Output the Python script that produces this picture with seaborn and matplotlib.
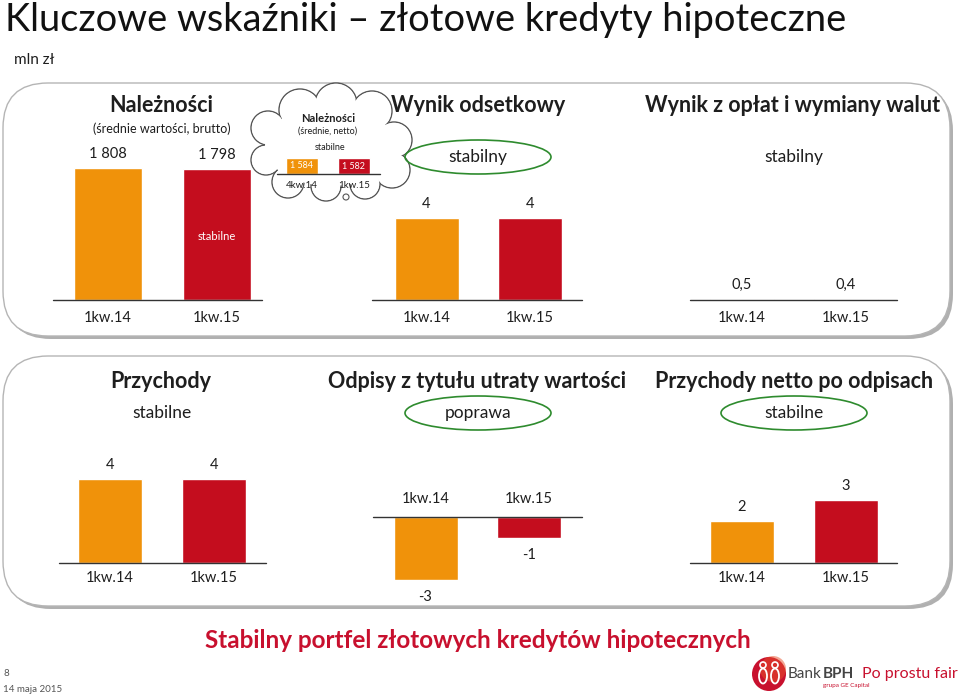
import matplotlib
matplotlib.use("Agg")
import matplotlib.pyplot as plt
import seaborn as sns
import pandas as pd
from matplotlib.patches import FancyBboxPatch, Circle, Ellipse

# ---------------- data ----------------
quarters = ["1kw.14", "1kw.15"]
cloud_quarters = ["4kw.14", "1kw.15"]
naleznosci_brutto = [1808, 1798]
naleznosci_netto = [1584, 1582]
wynik_odsetkowy = [4, 4]
wynik_oplat = [0.5, 0.4]
przychody = [4, 4]
odpisy = [-3, -1]
przychody_netto = [2, 3]

ORANGE = "#F0920A"
RED = "#C40D1E"
GREEN = "#2E8B2E"
DARK = "#1E1E1E"
W, H = 960, 696

sns.set_theme(style="white")
plt.rcParams["font.family"] = ["Lato", "DejaVu Sans"]

fig = plt.figure(figsize=(9.6, 6.96), dpi=100)
bg = fig.add_axes([0, 0, 1, 1])
bg.set_xlim(0, W)
bg.set_ylim(H, 0)
bg.axis("off")
bg.set_zorder(0)


def txt(x, y, s, size, **kw):
    kw.setdefault("color", DARK)
    kw.setdefault("ha", "center")
    kw.setdefault("va", "center")
    bg.text(x, y, s, fontsize=size, **kw)


def rbox(x0, y0, x1, y1, r=45):
    sh = FancyBboxPatch((x0 + r + 3, y0 + r + 3), (x1 - x0) - 2 * r, (y1 - y0) - 2 * r,
                        boxstyle=f"round,pad={r}", fc="#b0b0b0", ec="none", zorder=1)
    bg.add_patch(sh)
    bx = FancyBboxPatch((x0 + r, y0 + r), (x1 - x0) - 2 * r, (y1 - y0) - 2 * r,
                        boxstyle=f"round,pad={r}", fc="white", ec="#b5b5b5", lw=1.0, zorder=2)
    bg.add_patch(bx)


rbox(3, 83, 950, 336)
rbox(3, 356, 950, 606)

# ---------- cloud ----------
cloud = [(300, 110, 21), (336, 104, 21), (372, 111, 20), (394, 140, 18), (392, 170, 18),
         (365, 184, 15), (326, 186, 15), (288, 182, 16), (266, 160, 15), (268, 128, 17)]
for cx, cy, r in cloud:
    bg.add_patch(Circle((cx, cy), r, fc="white", ec="#555555", lw=1.0, zorder=3))
for cx, cy, r in cloud:
    bg.add_patch(Circle((cx, cy), r - 0.9, fc="white", ec="none", zorder=4))
bg.add_patch(Ellipse((330, 146), 130, 80, fc="white", ec="none", zorder=4))
bg.add_patch(Circle((346, 197), 3, fc="white", ec="#555555", lw=0.8, zorder=4))

txt(328, 119, "Należności", 8, fontweight="bold", zorder=6)
txt(328, 131, "(średnie, netto)", 6.5, zorder=6)
txt(330, 148, "stabilne", 6.5, zorder=6)

# ---------- ellipses ----------
for cx, cy in [(478, 157), (478, 413), (794, 413)]:
    bg.add_patch(Ellipse((cx, cy), 146, 34, fc="none", ec=GREEN, lw=1.2, zorder=5))

# ---------- texts ----------
txt(5, 20, "Kluczowe wskaźniki – złotowe kredyty hipoteczne", 27.4, ha="left", color="#111111")
txt(14, 60, "mln zł", 11, ha="left")

txt(161, 106, "Należności", 15.5, fontweight="bold", zorder=6)
txt(162, 129, "(średnie wartości, brutto)", 9, zorder=6)
txt(478, 106, "Wynik odsetkowy", 15.5, fontweight="bold", zorder=6)
txt(478, 157, "stabilny", 12.5, zorder=6)
txt(793, 106, "Wynik z opłat i wymiany walut", 15.5, fontweight="bold", zorder=6)
txt(794, 157, "stabilny", 12.5, zorder=6)

txt(161, 381, "Przychody", 15.5, fontweight="bold", zorder=6)
txt(162, 413, "stabilne", 12.5, zorder=6)
txt(477, 381, "Odpisy z tytułu utraty wartości", 15.5, fontweight="bold", zorder=6)
txt(478, 413, "poprawa", 12.5, zorder=6)
txt(794, 381, "Przychody netto po odpisach", 15.5, fontweight="bold", zorder=6)
txt(794, 413, "stabilne", 12.5, zorder=6)

txt(478, 641, "Stabilny portfel złotowych kredytów hipotecznych", 17.5,
    fontweight="bold", color="#C8102E")

txt(3, 674, "8", 7, ha="left", color="#555555")
txt(3, 689, "14 maja 2015", 7, ha="left", color="#555555")

# ---------- logo ----------
bg.add_patch(Circle((769, 674), 17, fc="#C8102E", ec="none", zorder=3))
bg.add_patch(Circle((773, 669), 13, fc="#E8502A", ec="none", alpha=0.5, zorder=3))
bg.add_patch(Ellipse((763, 676), 8, 15, fc="none", ec="white", lw=1.3, zorder=4))
bg.add_patch(Ellipse((775, 676), 8, 15, fc="none", ec="white", lw=1.3, zorder=4))
bg.add_patch(Circle((763, 665), 3, fc="none", ec="white", lw=1.2, zorder=4))
bg.add_patch(Circle((775, 665), 3, fc="none", ec="white", lw=1.2, zorder=4))
txt(788, 674, "Bank", 11, ha="left", color="#444444")
txt(823, 674, "BPH", 11, ha="left", color="#444444", fontweight="bold")
txt(823, 686, "grupa GE Capital", 4.5, ha="left", color="#C8102E")
txt(862, 674, "Po prostu fair", 11.5, ha="left", color="#C8102E")


# ---------- bar panels ----------
def panel(values, cats, xl, xr, c0, c1, bw, ytop, ybot, ylim, fmt,
          label_size=10.5, tick_size=10.5, pad=8, top_ticks=False, lab_off=10):
    sp = c1 - c0
    ax = fig.add_axes([xl / W, 1 - ybot / H, (xr - xl) / W, (ybot - ytop) / H])
    ax.set_zorder(5)
    ax.patch.set_alpha(0)
    df = pd.DataFrame({"q": cats, "v": values})
    sns.barplot(data=df, x="q", y="v", hue="q", palette=[ORANGE, RED], legend=False,
                width=bw / sp, saturation=1, ax=ax)
    ax.set_xlim((xl - c0) / sp, (xr - c0) / sp)
    ax.set_ylim(*ylim)
    ax.axhline(0, color="#333333", lw=1.0, clip_on=False)
    for s in ax.spines.values():
        s.set_visible(False)
    ax.set_yticks([])
    ax.set_xlabel("")
    ax.set_ylabel("")
    ax.set_xticks([0, 1])
    ax.set_xticklabels(cats, fontsize=tick_size, color=DARK)
    if top_ticks:
        ax.xaxis.tick_top()
    ax.tick_params(axis="x", length=0, pad=pad)
    if fmt is not None:
        for i, v in enumerate(values):
            off = lab_off if v >= 0 else -lab_off - 1
            ax.annotate(fmt(v), (i, v), xytext=(0, off), textcoords="offset points",
                        ha="center", va="center", fontsize=label_size, color=DARK,
                        annotation_clip=False)
    return ax


def sp_fmt(v):
    return f"{v:,}".replace(",", " ")


def pl_fmt(v):
    return f"{v}".replace(".", ",")


ax1 = panel(naleznosci_brutto, quarters, 53, 262, 108, 216.5, 68, 168, 300, (0, 1808), sp_fmt)
ax1.text(1, 1808 * 0.48, "stabilne", ha="center", va="center", fontsize=8, color="white")
panel(wynik_odsetkowy, quarters, 372, 582, 426.5, 530, 64, 218, 300, (0, 4), str)
panel(wynik_oplat, quarters, 690, 897, 741.5, 845.5, 64, 218, 300, (0, 30), pl_fmt)

panel(przychody, quarters, 59, 266, 110, 214, 64, 479, 563, (0, 4), str, pad=6)
panel(odpisy, quarters, 373, 582, 425.5, 529, 64, 517, 580, (-3, 0), str, pad=8, top_ticks=True,
      lab_off=11)
panel(przychody_netto, quarters, 690, 897, 742, 845.5, 64, 500, 563, (0, 3), str, pad=6)

# cloud inset bars
axc = fig.add_axes([277 / W, 1 - 174 / H, 103 / W, 24 / H])
axc.set_zorder(6)
axc.patch.set_alpha(0)
dfc = pd.DataFrame({"q": cloud_quarters, "v": naleznosci_netto})
sns.barplot(data=dfc, x="q", y="v", hue="q", palette=[ORANGE, RED], legend=False,
            width=32 / 52, saturation=1, ax=axc)
axc.set_xlim((277 - 302) / 52, (380 - 302) / 52)
axc.set_ylim(0, 1584 * 24 / 16)
axc.axhline(0, color="#333333", lw=1.0, clip_on=False)
for s in axc.spines.values():
    s.set_visible(False)
axc.set_yticks([])
axc.set_xlabel("")
axc.set_ylabel("")
axc.set_xticks([0, 1])
axc.set_xticklabels(cloud_quarters, fontsize=7, color=DARK)
axc.tick_params(axis="x", length=0, pad=5)
for i, v in enumerate(naleznosci_netto):
    axc.text(i, v / 2, sp_fmt(v), ha="center", va="center", fontsize=6.5, color="white")

fig.savefig("out.png", dpi=100)
